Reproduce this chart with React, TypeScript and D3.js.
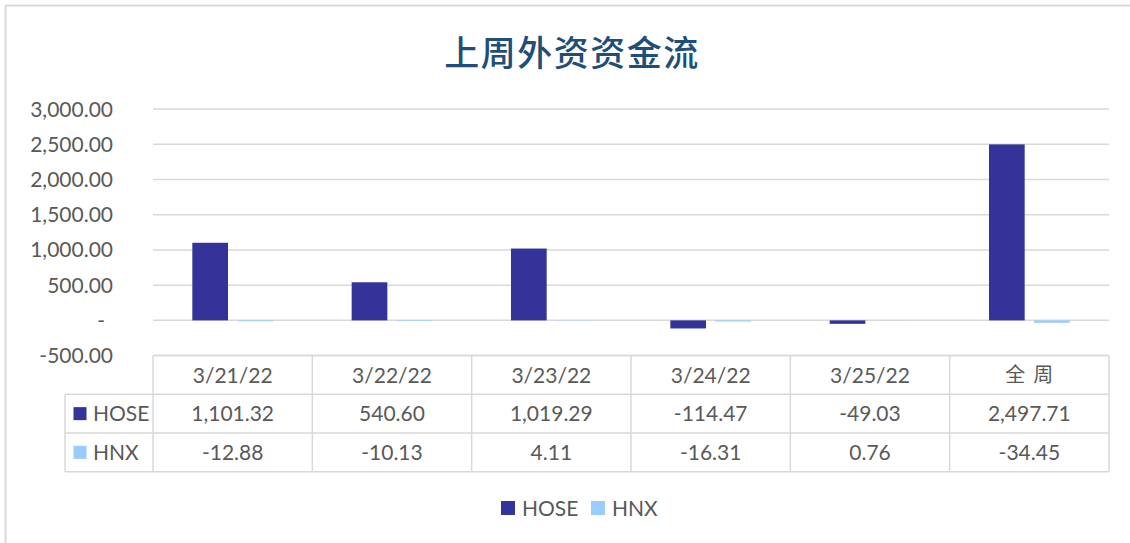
import React from 'react';
import * as d3 from 'd3';

const categories = ['3/21/22', '3/22/22', '3/23/22', '3/24/22', '3/25/22', '全周'];
const seriesNames = ['HOSE', 'HNX'];
const hoseValues = [1101.32, 540.6, 1019.29, -114.47, -49.03, 2497.71];
const hnxValues = [-12.88, -10.13, 4.11, -16.31, 0.76, -34.45];
const yTicks = [-500, 0, 500, 1000, 1500, 2000, 2500, 3000];
const seriesColors = ['#333399', '#99CCFF'];
const chartTitle = '上周外资资金流';

const W = 1130;
const H = 543;
const plotLeft = 153;
const plotRight = 1109;
const legendColLeft = 65;
const rowH = 38.7;
const textColor = '#595959';
const gridColor = '#d9d9d9';
const latin = 'Lato, "Open Sans", sans-serif';
const cjk = '"Noto Sans CJK SC", sans-serif';

export default function App() {
  const series = [hoseValues, hnxValues];
  const x0 = d3.scaleBand<string>().domain(categories).range([plotLeft, plotRight]);
  const x1 = d3
    .scaleBand<string>()
    .domain(seriesNames)
    .range([0, x0.bandwidth()])
    .paddingInner(0.207)
    .paddingOuter(0.874);
  const y = d3.scaleLinear().domain([-500, 3000]).range([355.6, 109]);
  const d3fmt = d3.format(',.2f');
  const fmt = (v: number) => d3fmt(v).replace('\u2212', '-');
  const tickFmt = (v: number) => (v === 0 ? '-' : fmt(v));
  const tableTop = y(-500);
  const rows = [tableTop, tableTop + rowH, tableTop + 2 * rowH, tableTop + 3 * rowH];
  const colEdges = categories.map((c) => x0(c) as number).concat([plotRight]);

  return (
    <svg
      width={W}
      height={H}
      style={{ position: 'absolute', left: 0, top: 0, background: '#fff' }}
    >
      <rect x={0} y={0} width={W} height={H} fill="#fff" />
      <rect x={5.5} y={5.5} width={W + 100} height={H + 100} fill="none" stroke={gridColor} strokeWidth={2} />
      <text
        x={572}
        y={66}
        textAnchor="middle"
        fontFamily={cjk}
        fontSize={35}
        fontWeight={500}
        fill="#1F4E79"
        letterSpacing={1.5}
      >
        {chartTitle}
      </text>

      {/* gridlines */}
      {yTicks.map((t) => (
        <line key={t} x1={plotLeft} x2={plotRight} y1={y(t)} y2={y(t)} stroke={gridColor} strokeWidth={1.5} />
      ))}
      {/* y tick labels */}
      {yTicks.map((t) => (
        <text
          key={'l' + t}
          x={t === 0 ? 105 : 113}
          y={y(t)}
          dy="0.36em"
          textAnchor="end"
          fontFamily={latin}
          fontSize={21}
          fill={textColor}
        >
          {tickFmt(t)}
        </text>
      ))}

      {/* bars */}
      {categories.map((c, i) => (
        <g key={c}>
          {seriesNames.map((s, j) => {
            const v = series[j][i];
            const yv = y(v);
            const y0 = y(0);
            return (
              <rect
                key={s}
                x={(x0(c) as number) + (x1(s) as number)}
                y={Math.min(yv, y0)}
                width={x1.bandwidth()}
                height={Math.abs(yv - y0)}
                fill={seriesColors[j]}
              />
            );
          })}
        </g>
      ))}

      {/* data table */}
      <g stroke={gridColor} strokeWidth={1.5}>
        <line x1={plotLeft} x2={plotRight} y1={rows[0]} y2={rows[0]} />
        <line x1={legendColLeft} x2={plotRight} y1={rows[1]} y2={rows[1]} />
        <line x1={legendColLeft} x2={plotRight} y1={rows[2]} y2={rows[2]} />
        <line x1={legendColLeft} x2={plotRight} y1={rows[3]} y2={rows[3]} />
        <line x1={legendColLeft} x2={legendColLeft} y1={rows[1]} y2={rows[3]} />
        {colEdges.map((cx, k) => (
          <line key={k} x1={cx} x2={cx} y1={rows[0]} y2={rows[3]} />
        ))}
      </g>
      {categories.map((c) => {
        const cx = (x0(c) as number) + x0.bandwidth() / 2;
        const isCjk = /[\u4e00-\u9fff]/.test(c);
        return (
          <text
            key={'h' + c}
            x={isCjk ? cx + 4 : cx}
            y={(rows[0] + rows[1]) / 2}
            dy="0.36em"
            textAnchor="middle"
            fontFamily={isCjk ? cjk : latin}
            fontSize={isCjk ? 20 : 21}
            letterSpacing={isCjk ? 8 : 0}
            fill={textColor}
          >
            {c}
          </text>
        );
      })}
      {seriesNames.map((s, j) => {
        const cy = (rows[j + 1] + rows[j + 2]) / 2;
        return (
          <g key={'r' + s}>
            <rect x={73.5} y={cy - 6.5} width={13} height={13} fill={seriesColors[j]} />
            <text x={93} y={cy} dy="0.36em" fontFamily={latin} fontSize={21} fill={textColor}>
              {s}
            </text>
            {categories.map((c, i) => (
              <text
                key={c}
                x={(x0(c) as number) + x0.bandwidth() / 2}
                y={cy}
                dy="0.36em"
                textAnchor="middle"
                fontFamily={latin}
                fontSize={21}
                fill={textColor}
              >
                {fmt(series[j][i])}
              </text>
            ))}
          </g>
        );
      })}

      {/* legend */}
      {seriesNames.map((s, j) => {
        const lx = [501, 591][j];
        return (
          <g key={'lg' + s}>
            <rect x={lx} y={501} width={14} height={14} fill={seriesColors[j]} />
            <text x={lx + 21} y={508} dy="0.36em" fontFamily={latin} fontSize={21} fill={textColor}>
              {s}
            </text>
          </g>
        );
      })}
    </svg>
  );
}
